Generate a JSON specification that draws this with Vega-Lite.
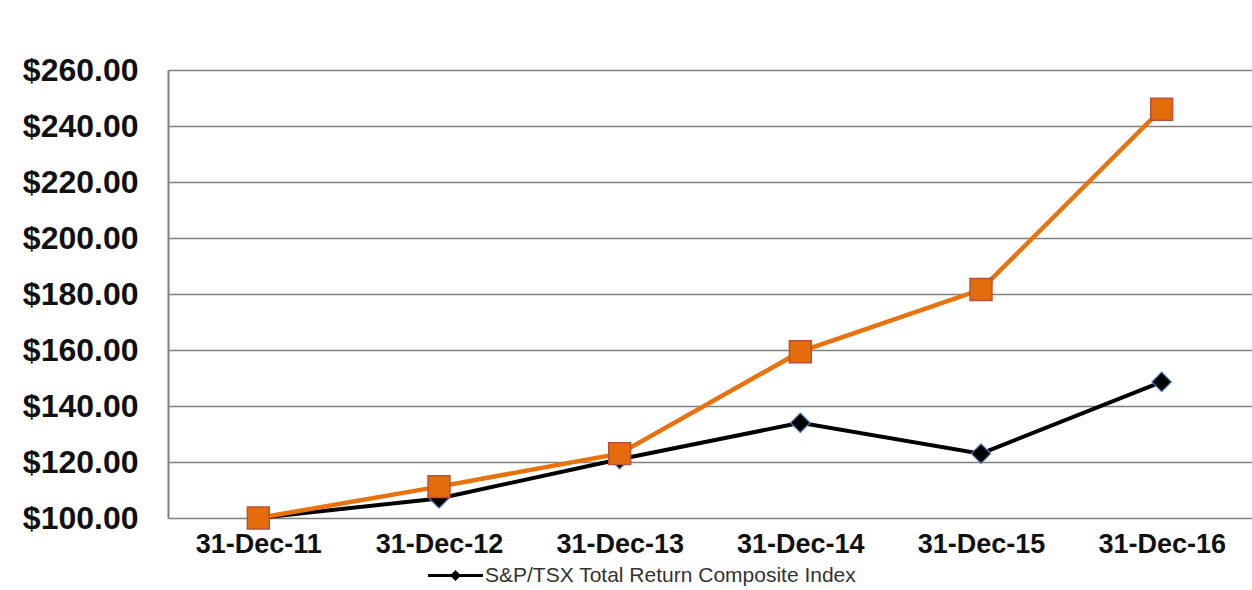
{
  "$schema": "https://vega.github.io/schema/vega-lite/v6.json",
  "width": 1084,
  "height": 448,
  "autosize": {"type": "none"},
  "padding": {"left": 168, "top": 70, "right": 0, "bottom": 72},
  "background": "white",
  "config": {
    "view": {"stroke": null},
    "font": "Liberation Sans"
  },
  "data": {
    "values": [
      {"date": "31-Dec-11", "series": "S&P/TSX Total Return Composite Index", "value": 100},
      {"date": "31-Dec-12", "series": "S&P/TSX Total Return Composite Index", "value": 107},
      {"date": "31-Dec-13", "series": "S&P/TSX Total Return Composite Index", "value": 121},
      {"date": "31-Dec-14", "series": "S&P/TSX Total Return Composite Index", "value": 134},
      {"date": "31-Dec-15", "series": "S&P/TSX Total Return Composite Index", "value": 123},
      {"date": "31-Dec-16", "series": "S&P/TSX Total Return Composite Index", "value": 148.6},
      {"date": "31-Dec-11", "series": "Company", "value": 100},
      {"date": "31-Dec-12", "series": "Company", "value": 111.2},
      {"date": "31-Dec-13", "series": "Company", "value": 123},
      {"date": "31-Dec-14", "series": "Company", "value": 159.4},
      {"date": "31-Dec-15", "series": "Company", "value": 181.6},
      {"date": "31-Dec-16", "series": "Company", "value": 246}
    ]
  },
  "encoding": {
    "x": {
      "field": "date",
      "type": "nominal",
      "sort": null,
      "scale": {"type": "point", "padding": 0.5},
      "axis": {
        "title": null,
        "labelAngle": 0,
        "labelFont": "Liberation Sans",
        "labelFontSize": 27,
        "labelFontWeight": "bold",
        "labelColor": "#111111",
        "labelPadding": 13,
        "ticks": false,
        "domain": false,
        "grid": false
      }
    },
    "y": {
      "field": "value",
      "type": "quantitative",
      "scale": {"domain": [100, 260], "nice": false, "zero": false},
      "axis": {
        "title": null,
        "values": [100, 120, 140, 160, 180, 200, 220, 240, 260],
        "format": "$.2f",
        "labelFont": "Liberation Sans",
        "labelFontSize": 32,
        "labelFontWeight": "bold",
        "labelColor": "#111111",
        "labelPadding": 30,
        "ticks": false,
        "domain": true,
        "domainColor": "#7f7f7f",
        "domainWidth": 2,
        "grid": true,
        "gridColor": "#7f7f7f",
        "gridWidth": 1.6
      }
    }
  },
  "layer": [
    {
      "transform": [{"filter": "datum.series === 'S&P/TSX Total Return Composite Index'"}],
      "mark": {"type": "line", "strokeWidth": 4},
      "encoding": {
        "color": {
          "field": "series",
          "type": "nominal",
          "scale": {"range": ["#000000"]},
          "legend": {
            "title": null,
            "orient": "none",
            "legendX": 260,
            "legendY": 478,
            "padding": 0,
            "symbolType": "M-1,-0.055H1V0.055H-1Z M0,-0.2L0.2,0L0,0.2L-0.2,0Z",
            "symbolSize": 3025,
            "symbolFillColor": "#000000",
            "symbolStrokeColor": "#000000",
            "symbolStrokeWidth": 0,
            "labelFont": "Liberation Sans",
            "labelFontSize": 21,
            "labelColor": "#333333",
            "labelOffset": 2,
            "labelLimit": 600
          }
        }
      }
    },
    {
      "transform": [{"filter": "datum.series === 'S&P/TSX Total Return Composite Index'"}],
      "mark": {"type": "point", "shape": "diamond", "filled": true, "size": 380, "fill": "#000000", "stroke": "#4f81bd", "strokeWidth": 1.2, "opacity": 1}
    },
    {
      "transform": [{"filter": "datum.series === 'Company'"}],
      "mark": {"type": "line", "strokeWidth": 4.5, "color": "#E8720C"}
    },
    {
      "transform": [{"filter": "datum.series === 'Company'"}],
      "mark": {"type": "point", "shape": "square", "filled": true, "size": 480, "fill": "#E46C0A", "stroke": "#b9513a", "strokeWidth": 1.5, "opacity": 1}
    }
  ]
}
